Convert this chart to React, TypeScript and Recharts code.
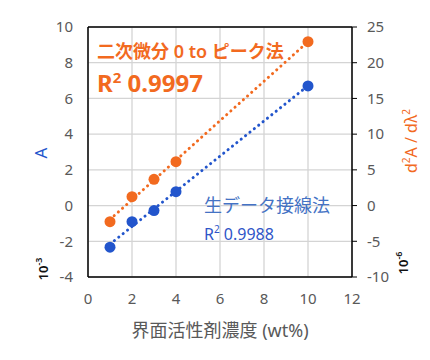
import { CartesianGrid, ComposedChart, ReferenceLine, Scatter, XAxis, YAxis } from 'recharts';
import type { CSSProperties } from 'react';

// 界面活性剤濃度 (wt%)
const conc = [1, 2, 3, 4, 10];
// 生データ接線法, A (10^-3)
const rawA = [-2.33, -0.9, -0.28, 0.78, 6.7];
// 二次微分 0 to ピーク法, d2A/dλ2 (10^-6)
const deriv2 = [-2.26, 1.24, 3.67, 6.14, 22.94];
// dotted trendlines, ends
const fitX = [1, 10];
const rawFit = [-2.16, 6.71];
const derivFit = [-1.95, 22.94];

const xTicks = [0, 2, 4, 6, 8, 10, 12];
const leftTicks = [-4, -2, 0, 2, 4, 6, 8, 10];
const rightTicks = [-10, -5, 0, 5, 10, 15, 20, 25];

const BLUE = '#2255CC';
const ORANGE = '#F26A1F';
const FONT = "'Noto Sans', 'Noto Sans CJK JP', sans-serif";

const rawPts = conc.map((x, i) => ({ x, y: rawA[i] }));
const derivPts = conc.map((x, i) => ({ x, y: deriv2[i] }));
const rawLine = fitX.map((x, i) => ({ x, y: rawFit[i] }));
const derivLine = fitX.map((x, i) => ({ x, y: derivFit[i] }));

const tickStyle = { fontSize: 15, fill: '#595959', fontFamily: FONT };
const noShape = () => <g />;

function Txt({ x, y, rot, style, children }: { x: number; y: number; rot?: boolean; style?: CSSProperties; children: any }) {
  return (
    <div
      style={{
        position: 'absolute',
        left: x,
        top: y,
        transform: rot ? 'translate(-50%, -50%) rotate(-90deg)' : 'translate(0, -50%)',
        whiteSpace: 'nowrap',
        fontFamily: FONT,
        lineHeight: 1,
        ...style,
      }}
    >
      {children}
    </div>
  );
}

export default function App() {
  return (
    <div style={{ position: 'relative', width: 422, height: 344, background: '#fff' }}>
      <ComposedChart width={422} height={344} margin={{ top: 19, right: 0, bottom: 0, left: 0 }}>
        <CartesianGrid yAxisId="left" stroke="#d4d4d4" strokeWidth={1.3} />
        <XAxis
          type="number"
          dataKey="x"
          domain={[0, 12]}
          ticks={xTicks}
          height={75}
          tickLine={false}
          tickSize={6}
          tickMargin={10}
          axisLine={{ stroke: '#000', strokeWidth: 1.5 }}
          tick={tickStyle}
        />
        <YAxis
          yAxisId="left"
          type="number"
          dataKey="y"
          domain={[-4, 10]}
          ticks={leftTicks}
          width={80}
          tickLine={false}
          tickSize={6}
          tickMargin={9}
          axisLine={{ stroke: '#000', strokeWidth: 1.5 }}
          tick={tickStyle}
        />
        <YAxis
          yAxisId="right"
          orientation="right"
          type="number"
          dataKey="y"
          domain={[-10, 25]}
          ticks={rightTicks}
          width={78}
          tickSize={5}
          tickMargin={10}
          tickLine={{ stroke: '#000' }}
          axisLine={{ stroke: '#000', strokeWidth: 1.5 }}
          tick={tickStyle}
        />
        <ReferenceLine yAxisId="left" y={10} stroke="#000" strokeWidth={1.5} />
        <Scatter
          yAxisId="left"
          data={rawLine}
          line={{ stroke: BLUE, strokeWidth: 3, strokeDasharray: '0.1 5.5', strokeLinecap: 'round' }}
          shape={noShape}
          isAnimationActive={false}
        />
        <Scatter
          yAxisId="right"
          data={derivLine}
          line={{ stroke: ORANGE, strokeWidth: 3, strokeDasharray: '0.1 5.5', strokeLinecap: 'round' }}
          shape={noShape}
          isAnimationActive={false}
        />
        <Scatter
          yAxisId="left"
          data={rawPts}
          shape={(p: any) => <circle cx={p.cx} cy={p.cy} r={5.5} fill={BLUE} />}
          isAnimationActive={false}
        />
        <Scatter
          yAxisId="right"
          data={derivPts}
          shape={(p: any) => <circle cx={p.cx} cy={p.cy} r={5.5} fill={ORANGE} />}
          isAnimationActive={false}
        />
      </ComposedChart>

      <Txt x={89} y={43} style={{ color: ORANGE, fontSize: 18, fontWeight: 600 }}>
        二次微分 0 to ピーク法
      </Txt>
      <Txt x={89} y={74} style={{ color: ORANGE, fontSize: 24, fontWeight: 700 }}>
        R<sup style={{ fontSize: 15 }}>2</sup> 0.9997
      </Txt>
      <Txt x={196} y={197} style={{ color: '#4472C4', fontSize: 18 }}>
        生データ接線法
      </Txt>
      <Txt x={196} y={225} style={{ color: '#2F55C8', fontSize: 16 }}>
        R<sup style={{ fontSize: 10 }}>2</sup> 0.9988
      </Txt>

      <Txt x={32} y={145} rot style={{ color: BLUE, fontSize: 17 }}>
        A
      </Txt>
      <Txt x={34} y={261} rot style={{ color: '#111', fontSize: 13, fontWeight: 600 }}>
        10<sup style={{ fontSize: 9 }}>-3</sup>
      </Txt>
      <Txt x={402} y={133} rot style={{ color: ORANGE, fontSize: 16 }}>
        d<sup style={{ fontSize: 10 }}>2</sup>A / dλ<sup style={{ fontSize: 10 }}>2</sup>
      </Txt>
      <Txt x={394} y={255} rot style={{ color: '#111', fontSize: 13, fontWeight: 600 }}>
        10<sup style={{ fontSize: 9 }}>-6</sup>
      </Txt>
      <div
        style={{
          position: 'absolute',
          left: 212,
          top: 322,
          transform: 'translate(-50%, -50%)',
          whiteSpace: 'nowrap',
          fontFamily: FONT,
          fontSize: 18,
          color: '#595959',
          lineHeight: 1,
        }}
      >
        界面活性剤濃度 (wt%)
      </div>
    </div>
  );
}
